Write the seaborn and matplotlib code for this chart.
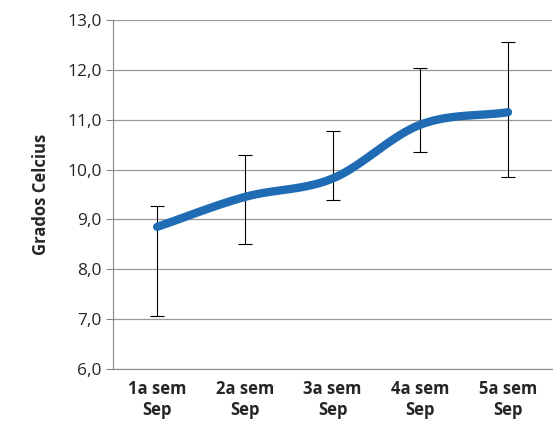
import matplotlib
matplotlib.use("Agg")
import matplotlib.pyplot as plt
import numpy as np
import seaborn as sns

categories = ["1a sem\nSep", "2a sem\nSep", "3a sem\nSep", "4a sem\nSep", "5a sem\nSep"]
temps = [8.85, 9.45, 9.82, 10.9, 11.15]
err_low = [7.07, 8.5, 9.38, 10.35, 9.85]
err_high = [9.27, 10.3, 10.77, 12.03, 12.55]

sns.set_style("white")
plt.rcParams["font.family"] = ["Open Sans", "DejaVu Sans"]

fig = plt.figure(figsize=(5.58, 4.36), dpi=100)
ax = fig.add_axes([0.203, 0.154, 0.786, 0.8])

x = np.arange(len(temps))
y = np.array(temps)

# Catmull-Rom smoothing of the line (display only, like Excel's smoothed line)
px = np.concatenate([[2 * x[0] - x[1]], x, [2 * x[-1] - x[-2]]]).astype(float)
py = np.concatenate([[2 * y[0] - y[1]], y, [2 * y[-1] - y[-2]]])
sx, sy = [], []
t = np.linspace(0, 1, 30)
for i in range(1, len(px) - 2):
    for arr, out in ((px, sx), (py, sy)):
        p0, p1, p2, p3 = arr[i - 1], arr[i], arr[i + 1], arr[i + 2]
        out.extend(0.5 * ((2 * p1) + (-p0 + p2) * t + (2 * p0 - 5 * p1 + 4 * p2 - p3) * t**2
                          + (-p0 + 3 * p1 - 3 * p2 + p3) * t**3))

yerr = [y - np.array(err_low), np.array(err_high) - y]
ax.errorbar(x, y, yerr=yerr, fmt="none", ecolor="black", elinewidth=0.8, capsize=5, capthick=0.8, zorder=2)
sns.lineplot(x=sx, y=sy, ax=ax, color="#1f6cb4", linewidth=6, sort=False, zorder=3,
             solid_capstyle="round")

ax.set_xlim(-0.5, 4.5)
ax.set_ylim(6, 13)
ax.set_yticks(np.arange(6, 13.5, 1))
ax.set_yticklabels([f"{v:.1f}".replace(".", ",") for v in np.arange(6, 13.5, 1)], fontsize=12.5)
ax.set_xticks(x)
ax.set_xticklabels(categories, fontsize=12, fontweight="bold")
ax.set_xticks(np.arange(-0.5, 5, 1), minor=True)
ax.tick_params(axis="x", which="major", length=0, pad=8)
ax.tick_params(axis="x", which="minor", length=5, color="#888888", direction="out")
ax.tick_params(axis="y", length=5, color="#888888", direction="out", left=True)
ax.yaxis.grid(True, color="#999999", linewidth=0.9)
for s in ["top", "right"]:
    ax.spines[s].set_visible(False)
for s in ["left", "bottom"]:
    ax.spines[s].set_color("#888888")
ax.set_ylabel("Grados Celcius", fontsize=12, fontweight="bold", labelpad=12)

fig.savefig("out.png", dpi=100)
